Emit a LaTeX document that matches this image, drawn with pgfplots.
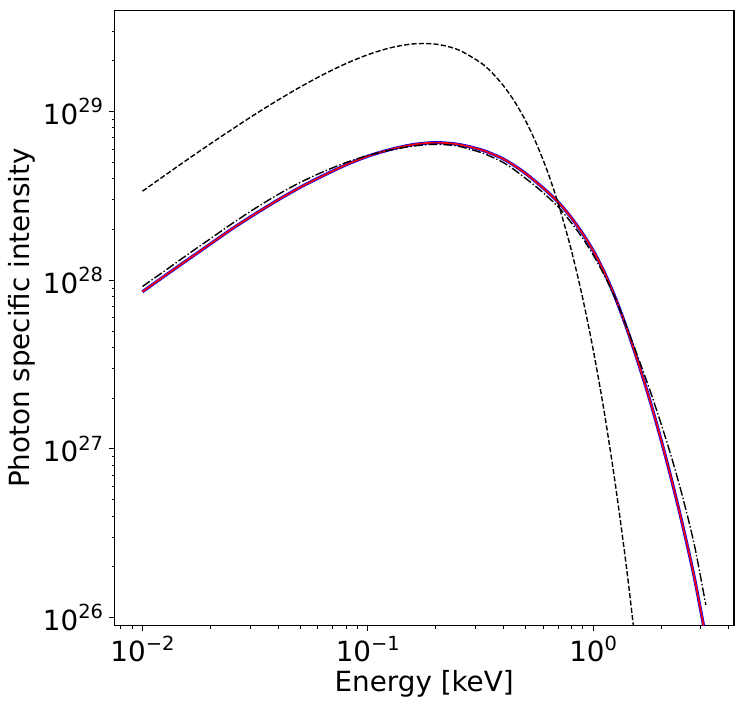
\documentclass[border=0pt]{standalone}
\usepackage{fontspec}
\setmainfont{DejaVu Sans}
\usepackage{pgfplots}
\usepackage{pgfplotstable}
\pgfplotsset{compat=1.18}

\newcommand{\tp}[1]{10\raisebox{0.42em}{\fontsize{14pt}{14pt}\selectfont #1}}

% solid (blue under red)
\pgfplotstableread{
E I
0.01 8.551e27
0.012589 1.064e28
0.015849 1.321e28
0.019953 1.637e28
0.025119 2.028e28
0.031623 2.472e28
0.039811 2.985e28
0.050119 3.556e28
0.063096 4.159e28
0.079433 4.808e28
0.1 5.433e28
0.12589 5.957e28
0.15849 6.368e28
0.19953 6.546e28
0.25119 6.397e28
0.31623 5.950e28
0.35481 5.620e28
0.39811 5.248e28
0.44668 4.786e28
0.50119 4.300e28
0.56234 3.793e28
0.63096 3.319e28
0.70795 2.858e28
0.79433 2.377e28
0.89125 1.919e28
1.0 1.500e28
1.1220 1.112e28
1.2589 7.780e27
1.4125 5.140e27
1.5849 3.243e27
1.7783 1.977e27
1.9953 1.151e27
2.2387 6.397e26
2.5119 3.396e26
2.8184 1.702e26
3.1623 7.603e25
}\solid

% dashed (blackbody-like)
\pgfplotstableread{
E I
0.01 3.373e28
0.012589 4.193e28
0.015849 5.200e28
0.019953 6.422e28
0.025119 7.889e28
0.031623 9.638e28
0.039811 1.167e29
0.050119 1.398e29
0.063096 1.652e29
0.079433 1.917e29
0.1 2.173e29
0.12589 2.388e29
0.15849 2.518e29
0.19953 2.512e29
0.25119 2.328e29
0.31623 1.953e29
0.35481 1.706e29
0.39811 1.434e29
0.44668 1.154e29
0.50119 8.831e28
0.56234 6.375e28
0.63096 4.315e28
0.70795 2.708e28
0.79433 1.565e28
0.89125 8.222e27
1.0 3.882e27
1.1220 1.629e27
1.2589 5.970e26
1.4125 1.884e26
1.5849 5.024e25
}\dashedbb

% dash-dot
\pgfplotstableread{
E I
0.01 9.183e27
0.012589 1.140e28
0.015849 1.419e28
0.019953 1.758e28
0.025119 2.178e28
0.031623 2.667e28
0.039811 3.214e28
0.050119 3.802e28
0.063096 4.385e28
0.079433 4.966e28
0.1 5.495e28
0.12589 5.916e28
0.15849 6.237e28
0.19953 6.397e28
0.25119 6.237e28
0.31623 5.730e28
0.35481 5.380e28
0.39811 5.000e28
0.44668 4.520e28
0.50119 4.020e28
0.56234 3.560e28
0.63096 3.110e28
0.70795 2.680e28
0.79433 2.218e28
0.89125 1.803e28
1.0 1.416e28
1.1220 1.067e28
1.2589 7.727e27
1.4125 5.248e27
1.5849 3.467e27
1.7783 2.265e27
1.9953 1.429e27
2.2387 8.710e26
2.5119 5.012e26
2.8184 2.661e26
3.1623 1.189e26
}\dashdot

\begin{document}
\begin{tikzpicture}
\path[use as bounding box] (-82.3pt,-59.8pt) rectangle (453.4pt,450.7pt);
\begin{axis}[
  at={(0,0)}, anchor=south west,
  width=446.2pt, height=443.3pt, scale only axis,
  xmode=log, ymode=log,
  xmin=0.0075, xmax=4.217, ymin=8.93e25, ymax=3.99e29,
  axis line style={line width=0.8pt},
  tick align=outside, tick pos=left,
  major tick length=3.5pt, minor tick length=2pt,
  every major tick/.style={black, line width=0.8pt},
  every minor tick/.style={black, line width=0.6pt},
  xtick={0.01,0.1,1},
  xticklabels={\tp{−2},\tp{−1},\tp{0}},
  minor xtick={0.008,0.009,0.02,0.03,0.04,0.05,0.06,0.07,0.08,0.09,0.2,0.3,0.4,0.5,0.6,0.7,0.8,0.9,2,3,4},
  ytick={1e26,1e27,1e28,1e29},
  yticklabels={\tp{26},\tp{27},\tp{28},\tp{29}},
  minor ytick={2e26,3e26,4e26,5e26,6e26,7e26,8e26,9e26,2e27,3e27,4e27,5e27,6e27,7e27,8e27,9e27,2e28,3e28,4e28,5e28,6e28,7e28,8e28,9e28,2e29,3e29},
  ticklabel style={font=\fontsize{20pt}{24pt}\selectfont},
  xticklabel style={anchor=base, inner sep=0pt, yshift=-22.4pt},
  yticklabel style={anchor=east, inner sep=0pt, xshift=-4.4pt},
  every axis x label/.style={at={(axis description cs:0.5,0)}, anchor=base, yshift=-47.5pt, font=\fontsize{20pt}{24pt}\selectfont},
  every axis y label/.style={at={(axis description cs:0,0.5)}, xshift=-66.7pt, rotate=90, anchor=center, font=\fontsize{20pt}{24pt}\selectfont},
  xlabel={Energy [keV]},
  ylabel={Photon specific intensity},
]
\addplot[blue, line width=2.2pt, smooth, tension=0.5] table[x=E,y=I] {\solid};
\addplot[red, line width=1.2pt, smooth, tension=0.5] table[x=E,y=I] {\solid};
\addplot[black, line width=1pt, smooth, tension=0.5, dash pattern=on 3.7pt off 1.6pt] table[x=E,y=I] {\dashedbb};
\addplot[black, line width=1pt, smooth, tension=0.5, dash pattern=on 6.4pt off 1.6pt on 1pt off 1.6pt] table[x=E,y=I] {\dashdot};
\end{axis}
\end{tikzpicture}
\end{document}
